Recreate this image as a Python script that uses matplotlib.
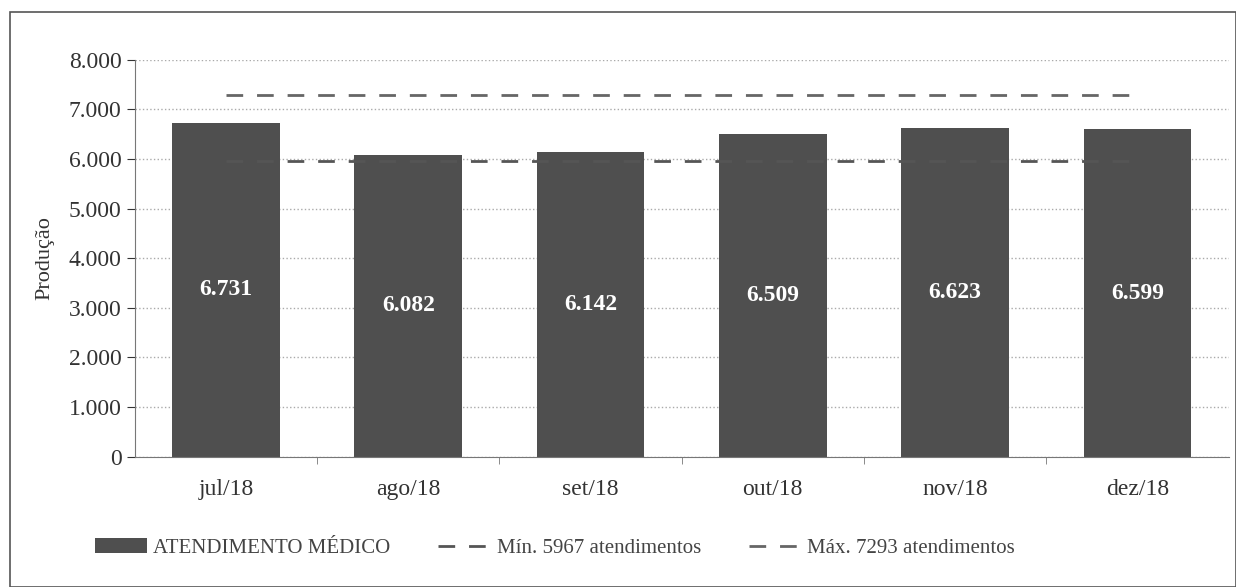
import matplotlib.pyplot as plt
from matplotlib.patches import Rectangle
from matplotlib.ticker import FuncFormatter, FixedLocator

months = ["jul/18", "ago/18", "set/18", "out/18", "nov/18", "dez/18"]
atendimentos = [6731, 6082, 6142, 6509, 6623, 6599]
min_val = 5967
max_val = 7293

plt.rcParams['font.family'] = ['Liberation Serif', 'DejaVu Serif']

fig = plt.figure(figsize=(12.36, 5.87), dpi=100)
ax = fig.add_axes([0.109, 0.222, 0.885, 0.676])

x = list(range(len(months)))
bars = ax.bar(x, atendimentos, width=0.59, color="#4f4f4f", zorder=2,
              label="ATENDIMENTO MÉDICO")
l_min, = ax.plot([x[0], x[-1]], [min_val, min_val], color="#555555", lw=2,
                 dashes=(6, 5), zorder=3, label="Mín. 5967 atendimentos")
l_max, = ax.plot([x[0], x[-1]], [max_val, max_val], color="#666666", lw=2,
                 dashes=(6, 5), zorder=3, label="Máx. 7293 atendimentos")

for a, b in zip(x, atendimentos):
    ax.text(a, b / 2, '{:,}'.format(b).replace(',', '.'), ha='center',
            va='center', color='white', fontsize=17, fontweight='bold', zorder=4)

ax.set_xlim(-0.5, len(months) - 0.5)
ax.set_ylim(0, 8000)
ax.set_yticks(range(0, 8001, 1000))
ax.yaxis.set_major_formatter(FuncFormatter(lambda v, p: '{:,.0f}'.format(v).replace(',', '.')))
ax.set_xticks(x)
ax.set_xticklabels(months)
ax.xaxis.set_minor_locator(FixedLocator([i + 0.5 for i in x[:-1]]))
ax.tick_params(axis='both', labelsize=17, colors='#333333', length=6)
ax.tick_params(axis='x', which='major', length=0, pad=16)
ax.tick_params(axis='x', which='minor', length=5, color='#777777')
ax.set_ylabel("Produção", fontsize=16, color='#333333', labelpad=10)
ax.grid(axis='y', linestyle=':', color='#aaaaaa', lw=1, zorder=0)
for s in ['top', 'right']:
    ax.spines[s].set_visible(False)
ax.spines['left'].set_color('#777777')
ax.spines['bottom'].set_color('#777777')

fig.legend(handles=[bars, l_min, l_max], loc='center', bbox_to_anchor=(0.449, 0.066),
           ncol=3, frameon=False, fontsize=15, handlelength=2.5, handletextpad=0.3,
           columnspacing=2.3, labelcolor='#444444')

fig.patches.append(Rectangle((0.008, 0.0), 0.992, 0.98, transform=fig.transFigure,
                             fill=False, edgecolor='#555555', lw=1.2))

fig.savefig("out.png", dpi=100)
